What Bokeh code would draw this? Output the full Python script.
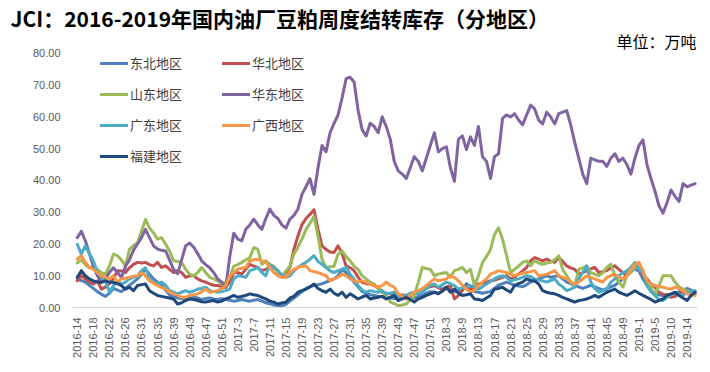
import math
from bokeh.plotting import figure
from bokeh.models import (Range1d, FixedTicker, NumeralTickFormatter, Legend,
                          LegendItem, Label, Title, ColumnDataSource)
from bokeh.embed import file_html
from bokeh.resources import INLINE

# ---- categories (week labels) ----
weeks_2016 = list(range(14, 28)) + list(range(29, 53))
weeks_2017 = list(range(1, 53))
weeks_2018 = list(range(1, 7)) + list(range(9, 53))
weeks_2019 = list(range(1, 6)) + list(range(7, 17))
categories = ([f"2016-{w}" for w in weeks_2016] + [f"2017-{w}" for w in weeks_2017] +
              [f"2018-{w}" for w in weeks_2018] + [f"2019-{w}" for w in weeks_2019])

series_names = ["东北地区", "华北地区", "山东地区", "华东地区", "广东地区", "广西地区", "福建地区"]
colors = ["#4F81BD", "#C0504D", "#9BBB59", "#8064A2", "#4BACC6", "#F79646", "#1F497D"]

dongbei = [9, 8.5, 8, 7, 6, 5, 4.2, 3.5, 4.5, 6,
           5.5, 5, 6, 7, 8, 9, 10.5, 12, 10.5, 9,
           8, 7, 5.5, 4, 3.5, 3, 2.8, 2.5, 3, 3.2,
           3, 2.5, 2.8, 3, 2.7, 2.5, 2.8, 2.5, 2.3, 2,
           2.2, 2.5, 2.2, 2, 2.3, 2.5, 2, 1.5, 1.2, 0.8,
           0.6, 0.5, 1, 2, 3, 4, 5, 6, 6.5, 7,
           7.2, 7.5, 8, 8.5, 9, 10, 12, 11, 9.5, 8,
           6.5, 5, 4.5, 4, 3.8, 3.5, 3.5, 3.2, 3, 2.8,
           2.5, 3, 3.5, 3.2, 3, 3.5, 4, 4.5, 5, 4.8,
           4.5, 5.2, 6, 5.5, 5, 5.2, 5.5, 7.5, 6.5, 5,
           4.8, 4.5, 4.8, 5, 6, 7, 7.5, 8, 7.5, 7,
           6.8, 6.5, 7.2, 8, 8.5, 9, 9.5, 10, 9.5, 9.8,
           10, 9, 8, 7.5, 7, 6.5, 6, 6.5, 7, 6.5,
           6, 5.5, 6, 6.5, 7, 8, 9, 10.5, 11.5, 12,
           11.5, 9, 7, 5.5, 4.5, 4, 3.8, 4, 4.2, 4.5,
           5, 5.5, 6, 5.5, 5]

huabei = [8.4, 10, 9, 8, 7.4, 8.4, 5.8, 6.4, 7.5, 9,
          11.6, 11.5, 11, 12.5, 13.6, 14.2, 14, 14.2, 13.5, 13.1,
          14.2, 12.6, 13.1, 12, 11, 11.6, 11, 9.5, 10, 10,
          9, 8.4, 8, 7.4, 7, 6.9, 6.6, 6.4, 8, 11,
          11, 10.5, 12, 13.6, 13, 12.6, 11.6, 12, 12.6, 12.6,
          11.5, 10, 11, 12.6, 18.3, 22.5, 26.1, 28, 29.3, 30.8,
          24.6, 19.4, 18.3, 17.5, 17.3, 19.4, 17, 13.1, 12.5, 11.6,
          9.5, 7.9, 7.5, 7.4, 6.9, 6.4, 4.8, 4.5, 4.3, 4.3,
          4, 3.9, 3.8, 4.2, 4.6, 4.8, 5.5, 6.2, 6.5, 6.9,
          6.2, 5.8, 6.4, 6.9, 2.7, 3.8, 5.5, 6.9, 5.8, 6.5,
          7.4, 7.6, 8, 8.4, 8.6, 9, 9.5, 10, 9, 9.5,
          10.5, 11.5, 12.6, 14.7, 15.7, 15.2, 14.7, 15.2, 14.6, 14.2,
          15.7, 14.5, 13.1, 12.5, 12, 10.5, 11, 11.6, 12.2, 12.6,
          11, 11.3, 11.6, 12.5, 13.1, 12, 11, 10, 11.5, 12.6,
          13.1, 10, 9, 7.5, 6.4, 4.8, 4.2, 3.8, 3.2, 3.5,
          4.3, 5, 5.3, 3.8, 4.3]

shandong = [14, 15, 13.5, 12.5, 13, 12, 11, 10.5, 13, 16.8,
            16.3, 15, 13, 18.3, 19.5, 20.4, 24, 27.7, 25, 23.5,
            21.5, 22, 20, 17.8, 14.7, 14.5, 14.2, 12, 10.5, 10,
            11, 12.6, 11, 9.5, 9, 8.4, 7.4, 8, 9.5, 13,
            13.5, 14.2, 15, 15.7, 18.9, 18.3, 13.6, 14.7, 13.5, 13,
            11, 10, 11.5, 13, 16.8, 19, 21.5, 24.6, 26.5, 28.7,
            22.5, 15.2, 12.6, 12.8, 13, 16.8, 17.8, 16, 14.7, 13,
            12, 10, 9, 8, 7.4, 5.8, 5.3, 3.8, 1.7, 1.2,
            0.6, 0.8, 1.1, 2.5, 3.8, 8, 12.6, 12.3, 12, 10,
            10.5, 10.8, 11, 9.5, 11.6, 12, 12.6, 11, 12, 6.9,
            10, 14.2, 16, 18.3, 23, 25.1, 21.5, 16.3, 11, 12,
            13, 14.2, 14.7, 13.1, 14.7, 14, 13.6, 14, 14.2, 15,
            16.3, 12, 10, 8, 6.9, 12, 12.5, 13.1, 11, 10.5,
            10, 11, 12.6, 13.6, 10, 8, 6.4, 10, 11, 12.6,
            13.6, 11, 8, 6.4, 3.8, 6.9, 10, 10, 10, 8,
            6.5, 5.8, 5.3, 5, 4.8]

huadong = [22, 24, 21, 17, 13, 10, 8, 9, 11, 12.5,
           11, 9.4, 13, 15, 18, 20, 22, 24.6, 22, 19.4,
           18.4, 18, 17.8, 15, 12, 10.6, 15, 19.4, 20.3, 19,
           17, 14.7, 13.5, 12.5, 11, 9, 8, 6.3, 16, 23.4,
           21.5, 21, 24.6, 26, 27.8, 26, 24.6, 28, 31, 29,
           28, 26, 25, 27.8, 29, 31, 35.6, 38, 40.6, 35.6,
           44, 51, 49, 55, 58, 60.6, 66, 72, 72.5, 71,
           62, 56, 54, 58, 57, 55, 60, 57, 53, 46,
           43, 42, 40.6, 44, 47.5, 46, 43, 47, 51, 55,
           49, 50, 50.6, 44, 39.7, 53, 54, 49.7, 53.7, 51,
           57, 47.5, 46, 40.6, 47.5, 48.4, 59.5, 60.6, 60, 61,
           59, 57.5, 60.6, 63.7, 62.5, 59, 57.8, 61.5, 60, 57.8,
           61, 61.5, 62, 57.5, 52, 47, 42, 39, 47, 46.5,
           46, 46, 44.4, 47, 48.4, 46, 47, 45, 42, 47,
           51, 52.8, 45, 40.6, 36.6, 32, 29.7, 33, 37, 35,
           33.4, 39, 38, 38.5, 39]

guangdong = [19.9, 16.8, 19.4, 17, 14.7, 11, 9.5, 8.4, 4.8, 6.9,
             8, 7.4, 8, 9, 9.5, 10, 11.6, 12.5, 9, 8,
             7.4, 8, 7, 5.3, 4.8, 4.3, 4.8, 5.3, 4.8, 5.2,
             5.8, 6, 6.4, 5.3, 5, 4.8, 5, 5.3, 5.8, 9,
             10, 9.8, 9.5, 11.6, 12, 12.6, 11, 10, 13.6, 12.5,
             11.6, 10, 9.5, 10, 11.5, 12.6, 13.5, 14.2, 15.2, 16.3,
             14.5, 13.6, 12.6, 11.5, 11, 11.6, 12, 12.6, 10.5, 9,
             6.9, 5.5, 4.8, 5.3, 5, 4.8, 5.3, 4.3, 4.5, 4.8,
             3.2, 3.5, 3.8, 4.5, 4.8, 4.3, 5, 5.8, 7, 7.4,
             6.4, 7.2, 8, 7.5, 6.9, 5.8, 6.2, 6.4, 6.9, 6.5,
             5.8, 6.5, 7.4, 8.2, 9, 9.7, 10, 9.5, 8.4, 8.7,
             9, 9.5, 10, 9.7, 9, 8.7, 8.4, 8, 8.5, 9,
             7.4, 6.5, 5.3, 5.8, 6.4, 9, 11, 13.1, 8, 6,
             4.8, 5.3, 5.8, 8, 9, 10, 11, 11.5, 12.6, 14.2,
             12, 11, 6.9, 5, 3.8, 2.5, 2.2, 3.2, 4, 4.8,
             4.2, 3.8, 4.8, 5, 5.3]

guangxi = [15.2, 16.3, 14.2, 12.6, 12, 11, 10, 9.5, 9, 10,
           8, 9, 9.2, 9.5, 9.8, 10, 11, 10, 8.4, 7.6,
           6.9, 6.3, 5.8, 4.8, 4.3, 3.8, 3.2, 3.2, 3.8, 4,
           4.3, 5, 5.8, 4.8, 5, 5.3, 6, 6.9, 10, 11,
           12.1, 12.4, 12.6, 14.7, 15, 15.2, 14.7, 14.2, 12.6, 11,
           10, 9.5, 9.5, 11, 12, 12.6, 13, 13.1, 11.6, 11.3,
           11, 10.5, 10, 8.4, 9, 9.5, 10.5, 10, 9, 8.5,
           8, 8.4, 8, 7.4, 6.9, 6.4, 6.9, 8, 7, 6.4,
           4.3, 3.5, 2.7, 3.8, 4.8, 5.3, 6, 6.9, 8, 9,
           8.4, 8.7, 9, 10, 9.5, 8.4, 7, 5.8, 4.8, 5.5,
           6.9, 8, 9, 10.5, 11, 11.6, 11.3, 11, 10.5, 10,
           10.5, 10.8, 11, 11.3, 11.6, 10, 10.2, 10.5, 11, 11.6,
           10, 9.5, 9, 8, 7.4, 8, 9, 10, 9.5, 9,
           8.5, 8, 9.5, 10, 10.5, 9.5, 9, 10, 12, 13.6,
           14.2, 11.6, 8.4, 7.5, 6.9, 6.6, 6.4, 6, 5.8, 6.4,
           6, 5.3, 4.3, 4, 3.8]

fujian = [9.5, 11.6, 10, 9, 8.4, 8, 7.9, 8.4, 8, 7.9,
          7.5, 6.9, 5.8, 6.4, 5.3, 6.9, 7.2, 7.4, 5.3, 4.5,
          3.8, 3.5, 3.2, 3, 2.7, 1.1, 1.5, 2.2, 2.7, 2.5,
          2.2, 1.8, 1.7, 2, 2.2, 1.7, 2, 2.7, 3.2, 3.8,
          3.2, 3.5, 3.8, 4.3, 4, 3.8, 3.2, 2.7, 2, 1.7,
          1.1, 1.4, 1.7, 3, 3.5, 4.8, 5.3, 5.8, 6.5, 7.4,
          6, 5.3, 4.8, 5.8, 4.5, 3.8, 4.8, 3.2, 4.3, 3.5,
          2.7, 3.3, 3.8, 2.7, 3, 3.2, 3.5, 2.7, 3.2, 3.8,
          2.2, 2.7, 3.2, 2.5, 1.7, 2.7, 3.2, 3.8, 4.3, 4.8,
          4.3, 5.2, 6.4, 4.8, 5.8, 4.5, 3.8, 4, 4.3, 2.7,
          2.5, 2.2, 3, 3.8, 5.8, 6, 6.4, 5.5, 4.8, 6.9,
          7.5, 8, 9, 8.5, 8.4, 7.4, 5.3, 4.8, 4.5, 4.3,
          3.8, 3.2, 2.7, 2.2, 1.7, 2.2, 2.4, 2.7, 3.2, 3.8,
          3.2, 4, 4.8, 5.3, 5.8, 4.8, 4.3, 3.8, 4.5, 5.3,
          4.5, 3.8, 3.2, 2.5, 1.7, 2.2, 2.7, 3.8, 4.3, 4.8,
          3.8, 3, 2.2, 3.8, 4.8]

y_ticks = [0, 10, 20, 30, 40, 50, 60, 70, 80]
title_text = "JCI：2016-2019年国内油厂豆粕周度结转库存（分地区）"
unit_text = "单位：万吨"

all_series = [dongbei, huabei, shandong, huadong, guangdong, guangxi, fujian]
n = len(categories)
x_idx = list(range(n))

# frame: left 72, right 697, top 30, bottom 307 (page pixels); 80 sits at y=51
FRAME_TOP, FRAME_BOTTOM, Y80 = 30, 307, 51
FRAME_H = FRAME_BOTTOM - FRAME_TOP
y_top = 80 * FRAME_H / (FRAME_BOTTOM - Y80)

p = figure(width=702, height=364, output_backend="svg", toolbar_location=None,
           x_range=Range1d(-1.2, n - 0.4), y_range=Range1d(0, y_top),
           min_border_left=72, min_border_right=5, min_border_bottom=364 - FRAME_BOTTOM,
           min_border_top=FRAME_TOP)
p.outline_line_color = None
p.xgrid.visible = False
p.ygrid.visible = False
p.background_fill_color = "white"
p.border_fill_color = "white"

renderers = []
for name, col, vals in zip(series_names, colors, all_series):
    src = ColumnDataSource(dict(x=x_idx, y=vals))
    r = p.line("x", "y", source=src, line_color=col, line_width=3,
               line_join="round", line_cap="round")
    renderers.append(r)

# axes
p.yaxis.ticker = FixedTicker(ticks=y_ticks)
p.yaxis.formatter = NumeralTickFormatter(format="0.00")
p.yaxis.axis_line_color = None
p.yaxis.major_tick_line_color = None
p.yaxis.minor_tick_line_color = None
p.yaxis.major_tick_out = 0
p.yaxis.major_tick_in = 0
p.yaxis.major_label_standoff = 12
p.yaxis.major_label_text_font = "Liberation Sans"
p.yaxis.major_label_text_font_size = "11px"
p.yaxis.major_label_text_color = "#595959"

p.xaxis.ticker = FixedTicker(ticks=list(range(0, n, 4)))
p.xaxis.major_label_overrides = {i: categories[i] for i in range(0, n, 4)}
p.xaxis.major_label_orientation = math.pi / 2
p.xaxis.axis_line_color = "#D9D9D9"
p.xaxis.axis_line_width = 1
p.xaxis.major_tick_line_color = None
p.xaxis.minor_tick_line_color = None
p.xaxis.major_tick_out = 0
p.xaxis.major_tick_in = 0
p.xaxis.major_label_standoff = 10
p.xaxis.major_label_text_font = "Liberation Sans"
p.xaxis.major_label_text_font_size = "11px"
p.xaxis.major_label_text_color = "#595959"

# legends (two columns)
def make_legend(idxs, loc):
    items = [LegendItem(label=series_names[i], renderers=[renderers[i]]) for i in idxs]
    lg = Legend(items=items, location=loc, orientation="vertical",
                background_fill_alpha=0, border_line_alpha=0,
                label_text_font="Noto Sans CJK SC", label_text_font_size="13px",
                label_text_color="#404040", glyph_width=28, glyph_height=18,
                label_height=18, spacing=12, padding=0, margin=0, label_standoff=2)
    return lg

p.add_layout(make_legend([0, 2, 4, 6], (28, 142)), "center")
p.add_layout(make_legend([1, 3, 5], (150, 173)), "center")

# unit label (inside the extended frame, above the 80 line)
p.add_layout(Label(x=624, y=FRAME_BOTTOM - 40, x_units="screen", y_units="screen",
                   text=unit_text, text_font="Noto Sans CJK SC", text_font_size="16px",
                   text_color="#000000", text_align="right", text_baseline="middle"))

# main title
p.add_layout(Title(text=title_text, align="left", text_font="Noto Sans CJK SC",
                   text_font_size="21px", text_font_style="bold", text_color="#000000",
                   offset=-62, standoff=0), "above")

open("out.html", "w").write(file_html(p, INLINE))
